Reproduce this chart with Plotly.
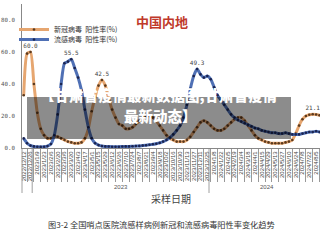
import datetime as dt
import plotly.graph_objects as go

# ---------------- data ----------------
week_start = dt.date(2022, 12, 12)

covid = [33, 59, 60.0, 40, 22, 12, 8, 6, 6, 7, 7, 6, 5, 4, 3.5, 3, 3, 3.5, 6, 12,
         23, 32, 39, 42.5, 39, 31, 24, 19, 15, 14, 12, 12, 13, 15, 17, 19, 20, 20, 19, 17,
         14, 11, 8, 6, 5, 4, 4, 4, 5, 7, 10, 13, 16, 17, 16, 14, 12, 11, 11, 12,
         14, 16, 18, 19, 19, 17, 14, 11, 8, 6, 5, 4, 3.5, 3, 3, 3, 3, 3.5, 4, 5,
         9, 14, 18, 20, 20.8, 21.1, 20.9, 20.5, 20]

flu = [6, 3, 1.5, 1, 0.8, 0.7, 0.8, 1.2, 2.5, 8, 21, 40, 53, 54, 55.5, 50, 44, 36, 24, 13,
       6, 3, 1.8, 1.2, 1.0, 0.9, 0.8, 0.8, 0.8, 0.9, 1.0, 1.0, 1.1, 1.2, 1.3, 1.5, 1.7, 2.0, 2.3, 2.7,
       3.2, 4, 5, 6.5, 8.5, 11, 14, 19, 27, 37, 45, 49.3, 46, 44, 45, 43, 38, 33, 30, 27,
       24, 21, 19, 17.5, 16.5, 15.5, 14.5, 13.5, 12.5, 12, 11, 10.5, 10, 9.5, 9.5, 9, 9, 9.5, 9, 8.5,
       8.5, 8.5, 9, 9.5, 10, 10, 10.5, 10, 10]

covid_labeled_peaks = [60.0, 42.5, 21.1]
flu_labeled_peaks = [55.5, 49.3]

covid_name = "新冠病毒\u00a0\u00a0阳性率(%)"
flu_name = "流感病毒\u00a0\u00a0阳性率(%)"
y_ticks = [0, 20, 40, 60, 80]

title_text = "中国内地"
x_title = "采样日期"
caption = "图3-2 全国哨点医院流感样病例新冠和流感病毒阳性率变化趋势"
overlay_line1 = "【甘肃省疫情最新数据图,甘肃省疫情"
overlay_line2 = "最新动态】"

# ---------------- derived ----------------
n = len(covid)
xs = list(range(n))
dates = [week_start + dt.timedelta(weeks=i) for i in range(n)]
date_labels = [f"{d.year}/{d.month}/{d.day}" for d in dates]

W, H = 320, 240
L, T, B = 22, 4, 92
plot_w = W - L
plot_h = H - T - B
px_per_week = 3.4
xr = [-0.5, -0.5 + plot_w / px_per_week]


def pxx(px):
    return (px - L) / plot_w


def pyy(py):
    return (H - B - py) / plot_h


def idx_to_paper(v):
    return (v - xr[0]) / (xr[1] - xr[0])


cj = "Noto Sans CJK SC"
mono = "DejaVu Sans Mono"

covid_text = [f"{v:.1f}" if v in covid_labeled_peaks else "" for v in covid]
flu_text = [f"{v:.1f}" if v in flu_labeled_peaks else "" for v in flu]

fig = go.Figure()
fig.add_trace(go.Scatter(
    x=xs, y=covid, name=covid_name, mode="lines+markers+text",
    line=dict(color="#E6A670", width=3, shape="spline", smoothing=0.6),
    marker=dict(color="#5B3A1E", size=2.6),
    text=covid_text, textposition="top center",
    textfont=dict(family=mono, size=6, color="#444"),
    legend="legend", cliponaxis=False))
fig.add_trace(go.Scatter(
    x=xs, y=flu, name=flu_name, mode="lines+markers+text",
    line=dict(color="#4F70B5", width=3, shape="spline", smoothing=0.6),
    marker=dict(color="#1B2450", size=2.6),
    text=flu_text, textposition="top center",
    textfont=dict(family=mono, size=6, color="#444"),
    legend="legend2", cliponaxis=False))

# group (year) boundaries and labels
bounds = [-0.5] + [i - 0.5 for i in range(1, n) if dates[i].year != dates[i - 1].year]
shapes = []
for b in bounds:
    shapes.append(dict(type="line", xref="paper", yref="paper",
                       x0=idx_to_paper(b), x1=idx_to_paper(b),
                       y0=pyy(148), y1=pyy(193),
                       line=dict(color="#888", width=0.8)))
annotations = []
groups = {}
for i, d in enumerate(dates):
    groups.setdefault(d.year, []).append(i)
for yr, idxs in groups.items():
    if len(idxs) >= 10:
        annotations.append(dict(x=(idxs[0] + idxs[-1]) / 2, xref="x", y=pyy(192), yref="paper",
                                text=str(yr), showarrow=False,
                                font=dict(family="Liberation Sans", size=6, color="#555")))

# overlay box
shapes.append(dict(type="rect", xref="paper", yref="paper",
                   x0=pxx(27), x1=pxx(291), y0=pyy(139), y1=pyy(97),
                   fillcolor="rgba(0,0,0,0.45)", line=dict(width=0), layer="above"))

annotations += [
    dict(x=pxx(162), y=pyy(10), xref="paper", yref="paper", text=title_text, showarrow=False,
         font=dict(family=cj, size=13, color="#C0392B", weight="bold")),
    dict(x=pxx(159), y=pyy(107), xref="paper", yref="paper", text=overlay_line1,
         showarrow=False, font=dict(family=cj, size=14.5, color="#FFFFFF", weight=900)),
    dict(x=pxx(160), y=pyy(128), xref="paper", yref="paper", text=overlay_line2,
         showarrow=False, font=dict(family=cj, size=14.5, color="#FFFFFF", weight=900)),
    dict(x=pxx(171), y=pyy(208), xref="paper", yref="paper", text=x_title, showarrow=False,
         font=dict(family=cj, size=10, color="#444")),
    dict(x=pxx(161), y=pyy(232), xref="paper", yref="paper", text=caption, showarrow=False,
         font=dict(family=cj, size=8.2, color="#333")),
]

leg_common = dict(xanchor="left", yanchor="top", bgcolor="rgba(0,0,0,0)",
                  font=dict(family=cj, size=7, color="#333"), itemwidth=30,
                  borderwidth=0)

fig.update_layout(
    width=W, height=H, margin=dict(l=L, r=0, t=T, b=B),
    paper_bgcolor="white", plot_bgcolor="white",
    showlegend=True,
    legend=dict(x=pxx(14), y=pyy(15), **leg_common),
    legend2=dict(x=pxx(14), y=pyy(25), **leg_common),
    shapes=shapes, annotations=annotations,
    xaxis=dict(range=xr, tickmode="array", tickvals=xs[::2], ticktext=date_labels[::2],
               tickangle=-90, ticks="", showgrid=False, zeroline=False,
               showline=True, linecolor="#888", linewidth=0.8,
               tickfont=dict(family="Liberation Sans", size=6, color="#444"),
               automargin=False,
               minor=dict(tickmode="linear", tick0=1, dtick=2, ticks="outside",
                          ticklen=33, tickcolor="#999", tickwidth=0.6, showgrid=False)),
    yaxis=dict(range=[0, 90], tickmode="array", tickvals=y_ticks,
               ticktext=[f"{v:.1f}" for v in y_ticks], ticks="", showgrid=False,
               zeroline=False, showline=True, linecolor="#888", linewidth=0.8,
               tickfont=dict(family=mono, size=5.8, color="#555"),
               ticklabelstandoff=5, automargin=False),
)

fig.write_html("out.html")
